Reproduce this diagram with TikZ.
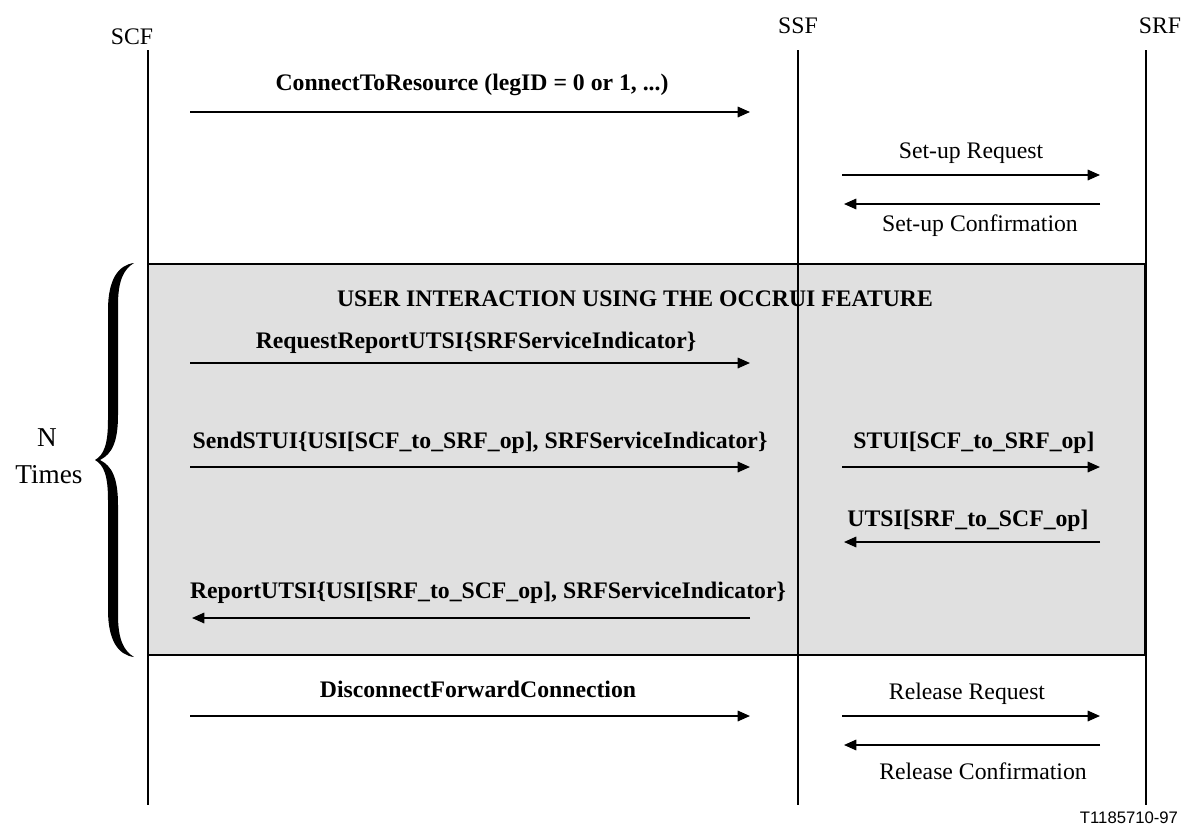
\documentclass[tikz,border=0pt]{standalone}
\usepackage{fontspec}
\setmainfont{Liberation Serif}
\newfontfamily\tagfont{Liberation Sans}
\usetikzlibrary{arrows.meta}
\definecolor{boxgray}{RGB}{224,224,224}
\tikzset{
	msg/.style={line width=0.9pt, -{Triangle[length=7pt,width=6pt]}},
	life/.style={line width=0.9pt},
	lbl/.style={inner sep=0pt, font=\fontsize{13.5}{15}\selectfont},
	blbl/.style={lbl, font=\fontsize{13.5}{15}\selectfont\bfseries}
}

\begin{document}
\begin{tikzpicture}[x=0.02cm, y=-0.02cm]
		%%%%% START %%%%%
		\useasboundingbox (0,0) rectangle (1181,832);
		
		\draw[fill=boxgray, line width=0.8pt] (148,264) rectangle (1145,655);
		
		\node[lbl] (scf) at (132,37) {SCF};
		\node[lbl] (ssf) at (798,26) {SSF};
		\node[lbl] (srf) at (1160,26) {SRF};
		\coordinate (scfT) at (148,50);   \coordinate (scfB) at (148,805);
		\coordinate (ssfT) at (798,50);   \coordinate (ssfB) at (798,805);
		\coordinate (srfT) at (1146,50);  \coordinate (srfB) at (1146,805);
		\draw[life] (scfT) -- (scfB);
		\draw[life] (ssfT) -- (ssfB);
		\draw[life] (srfT) -- (srfB);
		
		\coordinate (ctrA) at (190,112);  \coordinate (ctrB) at (750,112);
		\draw[msg] (ctrA) -- (ctrB);
		\node[blbl] (ctr) at (472,85) {ConnectToResource (legID = 0 or 1, ...)};
		
		\coordinate (sreqA) at (842,175); \coordinate (sreqB) at (1100,175);
		\draw[msg] (sreqA) -- (sreqB);
		\node[lbl] (sreq) at (971,153) {Set-up Request};
		\coordinate (sconA) at (1100,204); \coordinate (sconB) at (844,204);
		\draw[msg] (sconA) -- (sconB);
		\node[lbl] (scon) at (980,226) {Set-up Confirmation};
		
		\node[blbl] (title) at (635,299) {USER INTERACTION USING THE OCCRUI FEATURE};
		
		\coordinate (rruA) at (190,363);  \coordinate (rruB) at (750,363);
		\draw[msg] (rruA) -- (rruB);
		\node[blbl] (rru) at (476,343) {RequestReportUTSI\{SRFServiceIndicator\}};
		
		\coordinate (sndA) at (190,467);  \coordinate (sndB) at (750,467);
		\draw[msg] (sndA) -- (sndB);
		\node[blbl] (snd) at (480,443) {SendSTUI\{USI[SCF\_to\_SRF\_op], SRFServiceIndicator\}};
		\coordinate (stuiA) at (842,467); \coordinate (stuiB) at (1100,467);
		\draw[msg] (stuiA) -- (stuiB);
		\node[blbl] (stui) at (974,443) {STUI[SCF\_to\_SRF\_op]};
		
		\coordinate (utsiA) at (1100,542); \coordinate (utsiB) at (844,542);
		\draw[msg] (utsiA) -- (utsiB);
		\node[blbl] (utsi) at (968,521) {UTSI[SRF\_to\_SCF\_op]};
		
		\coordinate (repA) at (750,618);  \coordinate (repB) at (192,618);
		\draw[msg] (repA) -- (repB);
		\node[blbl] (rep) at (488,593) {ReportUTSI\{USI[SRF\_to\_SCF\_op], SRFServiceIndicator\}};
		
		\coordinate (dfcA) at (190,716);  \coordinate (dfcB) at (750,716);
		\draw[msg] (dfcA) -- (dfcB);
		\node[blbl] (dfc) at (478,689) {DisconnectForwardConnection};
		\coordinate (rreqA) at (842,716); \coordinate (rreqB) at (1100,716);
		\draw[msg] (rreqA) -- (rreqB);
		\node[lbl] (rreq) at (967,694) {Release Request};
		\coordinate (rconA) at (1100,745); \coordinate (rconB) at (844,745);
		\draw[msg] (rconA) -- (rconB);
		\node[lbl] (rcon) at (983,771) {Release Confirmation};
		
		% brace over the repeated part
		\fill (134,263) .. controls (118,265) and (108,280) .. (108,310)
			-- (108,420) .. controls (108,444) and (104,455) .. (95,460)
			.. controls (104,465) and (108,476) .. (108,500)
			-- (108,610) .. controls (108,640) and (118,655) .. (134,657)
			.. controls (124,651) and (118,640) .. (118,615)
			-- (118,505) .. controls (118,478) and (112,466) .. (100,460)
			.. controls (112,454) and (118,442) .. (118,415)
			-- (118,305) .. controls (118,280) and (124,269) .. (134,263) -- cycle;
		\node[lbl, font=\fontsize{15.5}{17}\selectfont] (n) at (47,438) {N};
		\node[lbl, font=\fontsize{15.5}{17}\selectfont] (times) at (49,475) {Times};
		
		\node[inner sep=0pt, font=\tagfont\fontsize{9.5}{11}\selectfont] (tag) at (1129,818) {T1185710-97};
		%%%%% END %%%%%
\end{tikzpicture}
\end{document}
